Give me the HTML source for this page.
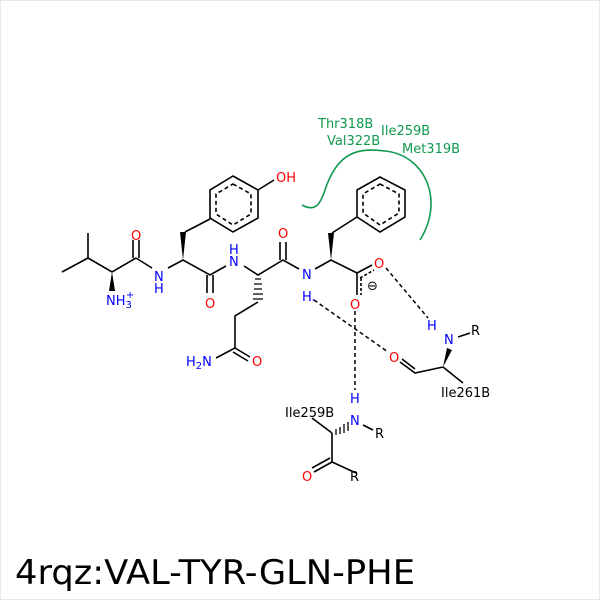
<!DOCTYPE html><html><head><style>body{margin:0;background:#fff}svg{display:block}text{font-family:"DejaVu Sans","Liberation Sans",sans-serif;font-size:13px}</style></head><body>
<svg width="600" height="600" viewBox="0 0 600 600">
<rect x="0.5" y="0.5" width="599" height="599" fill="#fff" stroke="#e8e8e8"/>
<g stroke="#000" stroke-width="1.6" fill="none">
<path d="M88,233 L88,258 L62,272 M88,258 L112,272 L136,258 M136,258 L152,268 M168,268 L183,260 L210,275 L226,266 M244,266 L258,275 L283,260 L299,269 M315,269 L331,260 L357,273"/>
<path d="M133,258 L133,240 M139,258 L139,240"/>
<path d="M207,275 L207,293 M213,275 L213,293"/>
<path d="M280,260 L280,242 M286,260 L286,242"/>
<path d="M258,302 L235,316 L235,348 L216,358 M235,348 L250,357 M233,352 L248,361"/>
<path d="M185,232 L210,219"/>
<path d="M233,176 L258,190 L258,218 L233,232 L210,218 L210,190 Z M258,190 L274,180"/>
<path d="M233,184 L251,194 L251,214 L233,225 L216,214 L216,194 Z" stroke-dasharray="4,3"/>
<path d="M380,177 L405,190 L405,217 L380,232 L357,217 L357,190 Z"/>
<path d="M380,184 L399,194 L399,213 L380,225 L363,213 L363,194 Z" stroke-dasharray="4,3"/>
<path d="M357,217 L332,233"/>
<path d="M357,273 L372,265 M357,273 L357,295"/>
<path d="M360,278 L374,270 M361,278 L361,295" stroke-dasharray="3,2"/>
<path d="M443,367 L415,373 L400,362 M415,369 L402,359 M443,367 L463,383 M458,337 L470,333"/>
<path d="M332,433 L312,418 M332,433 L332,462 L356,473 M332,462 L314,472 M330,458 L312,468 M363,425 L373,430"/>
</g>
<g fill="#000">
<polygon points="112,272 109,291 115,291"/>
<polygon points="183,260 180,232 186,232"/>
<polygon points="331,260 328,233 334,233"/>
<polygon points="443,367 447,348 452,350"/>
</g>
<g stroke="#000" stroke-width="1.3">
<path d="M255,279 L261,279 M254,284 L262,284 M254,289 L262,289 M253,294 L263,294 M253,299 L263,299"/>
<path d="M336,429 L336,435 M340,427 L340,434 M344,424 L344,433 M348,422 L348,431"/>
</g>
<g stroke="#000" stroke-width="1.5" stroke-dasharray="4,3" fill="none">
<path d="M386,268 L428,318"/><path d="M314,300 L388,352"/><path d="M355,311 L355,390"/>
</g>
<path d="M302,205 C315,212 320,205 325,190 C338,150 360,148 385,151 C425,155 445,200 420,240" stroke="#12994f" stroke-width="1.6" fill="none"/>
<g fill="#12994f"><text x="318" y="128">Thr318B</text><text x="327" y="145">Val322B</text><text x="381" y="135">Ile259B</text><text x="402" y="153">Met319B</text></g>
<g fill="#f00"><text x="131" y="240">O</text><text x="276" y="182">OH</text><text x="205" y="308">O</text><text x="278" y="238">O</text><text x="252" y="366">O</text><text x="374" y="268">O</text><text x="350" y="309">O</text><text x="389" y="362">O</text><text x="302" y="481">O</text></g>
<g fill="#00f"><text x="154" y="281">N</text><text x="154" y="293">H</text><text x="106" y="305">NH<tspan font-size="10" dy="3">3</tspan><tspan font-size="10" dx="-6" dy="-10">+</tspan></text><text x="229" y="266">N</text><text x="229" y="254">H</text><text x="186" y="366">H<tspan font-size="10" dy="3">2</tspan><tspan dy="-3">N</tspan></text><text x="302" y="279">N</text><text x="302" y="301">H.</text><text x="427" y="330">H</text><text x="444" y="344">N</text><text x="350" y="403">H</text><text x="350" y="425">N</text></g>
<text x="367" y="290" font-size="12">⊖</text>
<g fill="#000"><text x="471" y="335">R</text><text x="441" y="397">Ile261B</text><text x="285" y="417">Ile259B</text><text x="375" y="438">R</text><text x="350" y="481">R</text></g>
<text x="15" y="584" style="font-size:34px" textLength="400" lengthAdjust="spacingAndGlyphs">4rqz:VAL-TYR-GLN-PHE</text>
</svg></body></html>
